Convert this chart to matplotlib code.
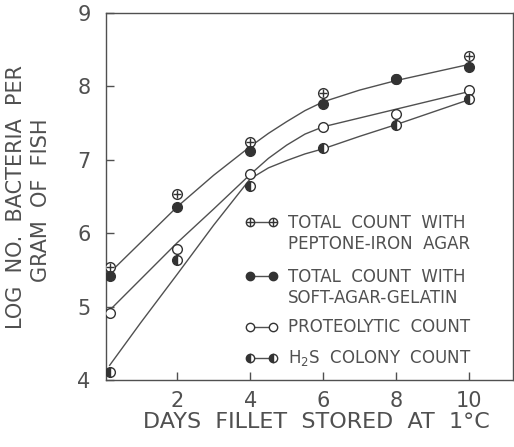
import matplotlib
matplotlib.use('Agg')
import matplotlib.pyplot as plt

# days of storage (first point sits just right of the y axis)
days = [0.15, 2, 4, 6, 8, 10]

# log counts
peptone_iron = [5.54, 6.53, 7.24, 7.91, 8.10, 8.41]
soft_agar = [5.42, 6.36, 7.12, 7.76, 8.10, 8.27]
proteolytic = [4.91, 5.78, 6.81, 7.45, 7.62, 7.95]
h2s = [4.11, 5.63, 6.64, 7.16, 7.47, 7.83]

# hand-drawn curves through the points (read at a few positions)
total_curve_x = [0.15, 2, 3, 4, 4.5, 5, 5.5, 6, 7, 8, 9, 10]
total_curve_y = [5.46, 6.36, 6.79, 7.18, 7.36, 7.52, 7.67, 7.79, 7.95, 8.08, 8.19, 8.30]
prot_curve_x = [0.15, 2, 3, 4, 4.5, 5, 5.5, 6, 7, 8, 9, 10]
prot_curve_y = [4.95, 5.87, 6.33, 6.80, 7.02, 7.20, 7.35, 7.45, 7.57, 7.69, 7.81, 7.93]
h2s_curve_x = [0.15, 1, 2, 3, 4, 4.5, 5, 5.5, 6, 7, 8, 9, 10]
h2s_curve_y = [4.20, 4.78, 5.44, 6.11, 6.74, 6.89, 6.99, 7.08, 7.15, 7.32, 7.48, 7.65, 7.82]

xticks = [2, 4, 6, 8, 10]
yticks = [4, 5, 6, 7, 8, 9]

ink = '#505050'
dark = '#333333'
ms = 7

plt.rcParams['font.family'] = ['DejaVu Sans']

fig = plt.figure(figsize=(5.14, 4.47), dpi=100)
ax = fig.add_axes([106/514, 1 - 380/447, 407/514, 367/447])

ax.plot(total_curve_x, total_curve_y, color=ink, lw=1.0, zorder=1)
ax.plot(prot_curve_x, prot_curve_y, color=ink, lw=1.0, zorder=1)
ax.plot(h2s_curve_x, h2s_curve_y, color=ink, lw=1.0, zorder=1)

# crossed circles
ax.plot(days, peptone_iron, 'o', ms=ms, mfc='white', mec=dark, mew=1.0, zorder=3)
ax.plot(days, peptone_iron, '+', ms=ms - 1, mec=dark, mew=1.0, zorder=4)
# filled circles
ax.plot(days, soft_agar, 'o', ms=ms, mfc=dark, mec=dark, mew=1.0, zorder=3)
# open circles
ax.plot(days, proteolytic, 'o', ms=ms, mfc='white', mec=dark, mew=1.0, zorder=3)
# half filled circles
ax.plot(days, h2s, 'o', ms=ms, fillstyle='left', mfc=dark, mfcalt='white',
        mec=dark, mew=1.0, zorder=3)

ax.set_xlim(0.05, 11.2)
ax.set_ylim(4, 9)
ax.set_xticks(xticks)
ax.set_yticks(yticks)
ax.tick_params(direction='in', length=6, width=1.0, color=ink, labelcolor=ink,
               labelsize=15, pad=8)
ax.tick_params(axis='y', pad=11)
for s in ax.spines.values():
    s.set_color(ink)
    s.set_linewidth(1.0)

# legend drawn by hand
tr = ax.transAxes
mx1, mx2, tx = 0.354, 0.410, 0.447
rows = [0.4305, 0.2834, 0.1444, 0.0599]
labels = ['TOTAL  COUNT  WITH\nPEPTONE-IRON  AGAR',
          'TOTAL  COUNT  WITH\nSOFT-AGAR-GELATIN',
          'PROTEOLYTIC  COUNT',
          'H$_2$S  COLONY  COUNT']
for i, (ry, lab) in enumerate(zip(rows, labels)):
    ax.plot([mx1, mx2], [ry, ry], color=ink, lw=1.0, transform=tr, zorder=2)
    kw = dict(ms=ms - 1, mec=dark, mew=1.0, transform=tr, zorder=3, clip_on=False)
    if i == 0:
        ax.plot([mx1, mx2], [ry, ry], 'o', mfc='white', **kw)
        ax.plot([mx1, mx2], [ry, ry], '+', **kw)
    elif i == 1:
        ax.plot([mx1, mx2], [ry, ry], 'o', mfc=dark, **kw)
    elif i == 2:
        ax.plot([mx1, mx2], [ry, ry], 'o', mfc='white', **kw)
    else:
        ax.plot([mx1, mx2], [ry, ry], 'o', fillstyle='left', mfc=dark,
                mfcalt='white', **kw)
    if '\n' in lab:
        ax.text(tx, ry + 0.022, lab, transform=tr, ha='left', va='top',
                fontsize=12, color=ink, linespacing=1.25)
    else:
        ax.text(tx, ry, lab, transform=tr, ha='left', va='center',
                fontsize=12, color=ink)

fig.text(316/514, 1 - 422/447, 'DAYS  FILLET  STORED  AT  1°C', ha='center',
         va='center', fontsize=16, color=ink)
fig.text(16/514, 1 - 197/447, 'LOG  NO.  BACTERIA  PER', rotation=90,
         ha='center', va='center', fontsize=15, color=ink)
fig.text(41/514, 1 - 200/447, 'GRAM  OF  FISH', rotation=90,
         ha='center', va='center', fontsize=15, color=ink)

fig.savefig('out.png', dpi=100)
